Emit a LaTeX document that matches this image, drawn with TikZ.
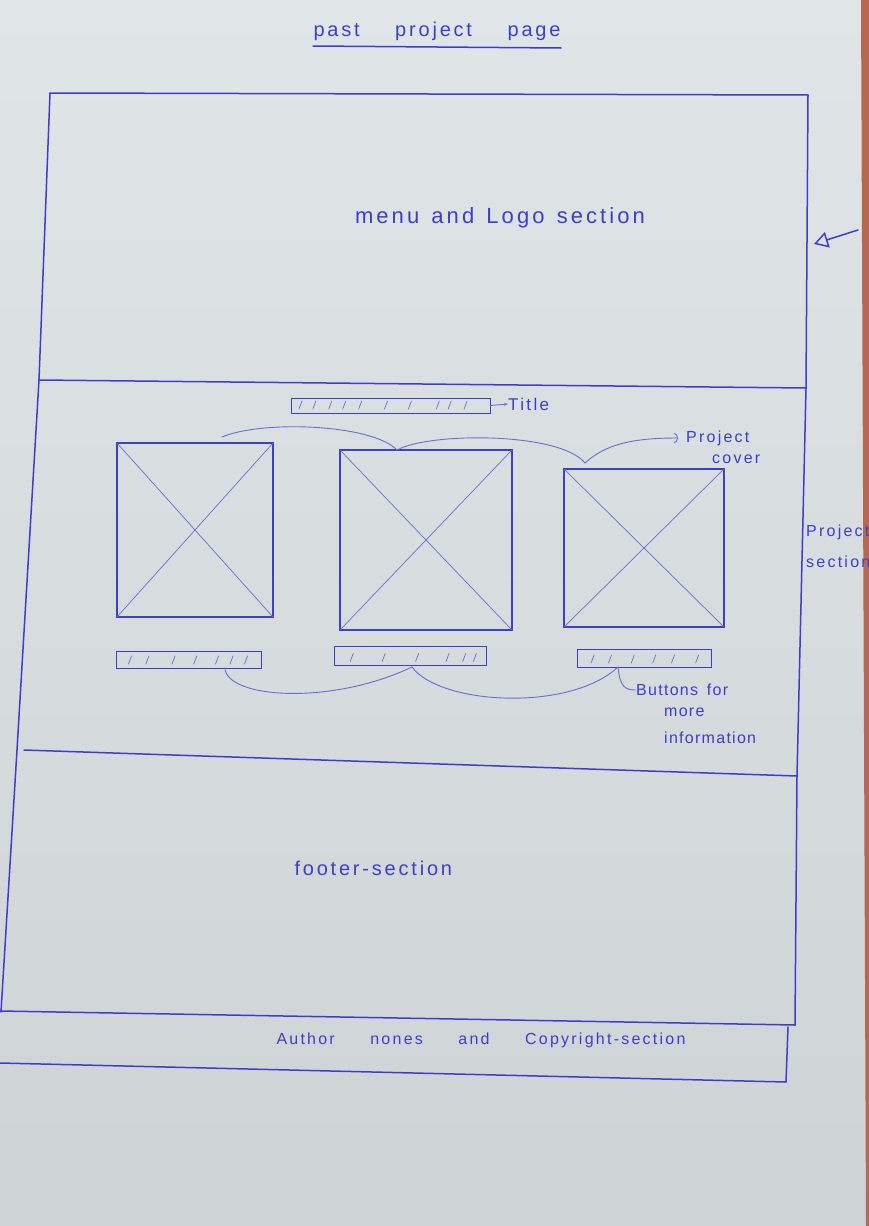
\documentclass[tikz,border=0pt]{standalone}
\usepackage{fontspec}
\setmainfont{Liberation Sans}
\usetikzlibrary{arrows.meta,calc}

\definecolor{paper}{RGB}{224,229,232}
\definecolor{paperlow}{RGB}{206,211,213}
\definecolor{ink}{RGB}{62,62,204}
\definecolor{inklight}{RGB}{108,108,214}
\definecolor{tabletop}{RGB}{184,104,82}

% slanted pen strokes inside a placeholder bar
\newcommand\hatchbar[2]{%
  \foreach \f in {#2}{%
    \draw[fine] ($(#1.south west)!\f!(#1.south east)+(-2,-4)$) -- ++(3,-8);}}

% handwritten-looking label of a fixed width
\newcommand\wide[2]{\makebox[#1][s]{#2}}

\begin{document}
\begin{tikzpicture}[x=1pt,y=-1pt,
  pen/.style={draw=ink,line width=1.5pt,line cap=round,line join=round},
  fine/.style={draw=inklight,line width=0.7pt,line cap=round},
  link/.style={draw=inklight,line width=0.9pt,line cap=round},
  hand/.style={text=ink,inner sep=0pt,
    font=\fontsize{#1}{#1}\selectfont\addfontfeature{LetterSpace=14}},
  hand/.default=18,
  tight/.style={text=ink,inner sep=0pt,
    font=\fontsize{#1}{#1}\selectfont\addfontfeature{LetterSpace=8}},
  frame/.style={draw=ink,line width=1.2pt,inner sep=0pt,outer sep=0pt},
  photo/.style={frame,minimum width=#1},
  bar/.style={draw=ink,line width=1pt,inner sep=0pt,outer sep=0pt}]

% sheet of paper
\useasboundingbox (0,0) rectangle (869,1226);
\fill[top color=paper,bottom color=paperlow] (0,0) rectangle (869,1226);
\fill[tabletop] (861,0) -- (869,0) -- (869,1226) -- (866,1226) -- cycle;

% heading
\node[hand=20] (heading) at (437,31) {\wide{247pt}{past project page}};
\draw[pen] (313,46) -- (561,48);

% page frame and section dividers
\draw[pen] (50,93) -- (808,95) -- (806,388) -- (797,776) -- (795,1025);
\draw[pen] (50,93) -- (39,380) -- (17,750) -- (1,1012);
\draw[pen] (39,380) -- (806,388);
\draw[pen] (24,750) -- (797,776);
\draw[pen] (0,1011) -- (795,1025);
\draw[pen] (0,1063) -- (786,1082) -- (788,1027);

% menu and logo section
\node[hand=22] (menu) at (500,218) {\wide{290pt}{menu and Logo section}};
\coordinate (menutail) at (858,230);
\coordinate (menutip) at (814,244);
\draw[pen,-{Triangle[open,length=14pt,width=16pt]}] (menutail) -- (menutip);

% project section
\node[hand=16,anchor=west] (projlbl1) at (806,532) {\wide{62pt}{Project}};
\node[hand=16,anchor=west] (projlbl2) at (806,562) {\wide{70pt}{section}};

\node[bar,minimum width=199pt,minimum height=15pt] (titlebar) at (390.5,405.5) {};
\hatchbar{titlebar}{0.05,0.12,0.2,0.27,0.35,0.48,0.6,0.74,0.8,0.88}
\node[hand=17,anchor=west] (titlelbl) at (508,404) {\wide{52pt}{Title}};
\draw[link,-{Stealth[length=4pt]}] (titlebar.east) -- (titlelbl.west);

\node[photo=156pt,minimum height=174pt] (img1) at (195,530) {};
\node[photo=172pt,minimum height=180pt] (img2) at (426,540) {};
\node[photo=160pt,minimum height=158pt] (img3) at (644,548) {};
\foreach \p in {img1,img2,img3}{
  \draw[fine] (\p.north west) -- (\p.south east);
  \draw[fine] (\p.north east) -- (\p.south west);}

\node[hand=16,anchor=west] (coverlbl1) at (686,438) {\wide{72pt}{Project}};
\node[hand=16,anchor=west] (coverlbl2) at (712,459) {\wide{66pt}{cover}};
\coordinate (coverstart) at (222,437);
\coordinate (covertop2) at (397,450);
\coordinate (covertop3) at (585,463);
\draw[link] (coverstart) .. controls (262,420) and (372,424) .. (covertop2)
  .. controls (430,432) and (560,432) .. (covertop3);
\draw[link,-{Arc Barb[length=4pt,width=10pt]}] (covertop3)
  .. controls (605,445) and (630,438) .. ($(coverlbl1.west)+(-8,0)$);

\node[bar,minimum width=145pt,minimum height=17pt] (btn1) at (188.5,659.5) {};
\node[bar,minimum width=152pt,minimum height=19pt] (btn2) at (410,656) {};
\node[bar,minimum width=134pt,minimum height=18pt] (btn3) at (644,658) {};
\hatchbar{btn1}{0.1,0.22,0.4,0.55,0.7,0.8,0.9}
\hatchbar{btn2}{0.12,0.33,0.55,0.75,0.86,0.93}
\hatchbar{btn3}{0.12,0.25,0.42,0.58,0.72,0.9}

\node[tight=16,anchor=west] (btnlbl1) at (636,690) {\wide{92pt}{Buttons for}};
\node[tight=16,anchor=west] (btnlbl2) at (664,712) {\wide{44pt}{more}};
\node[tight=16,anchor=west] (btnlbl3) at (664,738) {\wide{122pt}{information}};
\coordinate (btnfoot1) at (225,668);
\coordinate (btnfoot2) at (412,667);
\coordinate (btnfoot3) at (618,667);
\draw[link] (btnfoot1) .. controls (226,698) and (330,706) .. (btnfoot2)
  .. controls (440,705) and (570,712) .. (btnfoot3);
\draw[link] (btnfoot3) .. controls (620,688) and (626,690) .. (btnlbl1.west);

% footer section
\node[hand=20] (footer) at (373,868) {\wide{157pt}{footer-section}};

% author names and copyright strip
\node[hand=16] (author) at (481,1040) {\wide{409pt}{Author nones and Copyright-section}};

\end{tikzpicture}
\end{document}
